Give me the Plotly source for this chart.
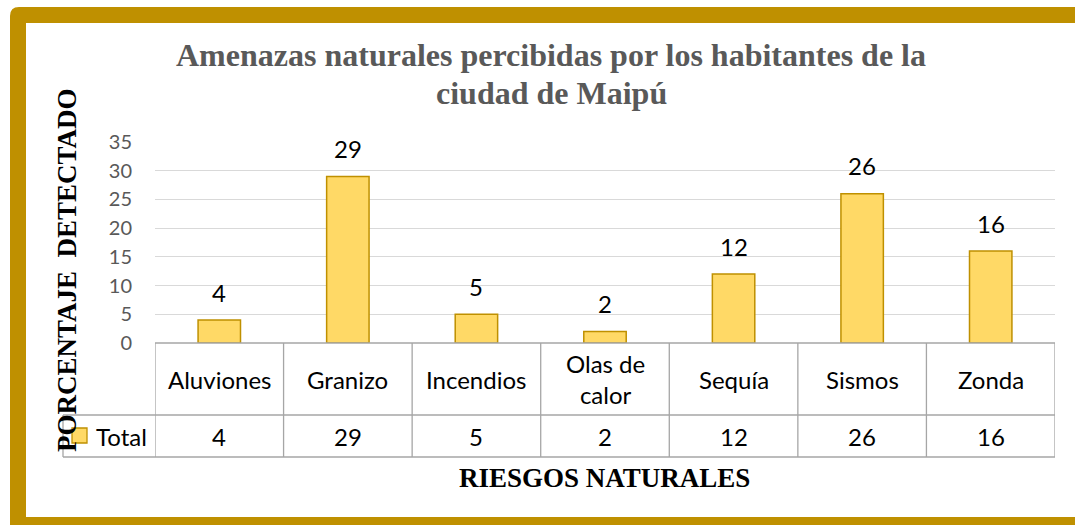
import plotly.graph_objects as go

# ---- data ----
categories = ["Aluviones", "Granizo", "Incendios", "Olas de calor", "Sequía", "Sismos", "Zonda"]
header_labels = ["Aluviones", "Granizo", "Incendios", "Olas de<br>calor", "Sequía", "Sismos", "Zonda"]
values = [4, 29, 5, 2, 12, 26, 16]
series_name = "Total"
y_ticks = [0, 5, 10, 15, 20, 25, 30, 35]
title_lines = ["Amenazas naturales percibidas por los habitantes de la", "ciudad de Maipú"]
y_title = "PORCENTAJE  DETECTADO"
x_title = "RIESGOS NATURALES"

# ---- layout geometry helpers (pixels -> paper) ----
W, H = 1075, 525
L, R, T, B = 155, 20, 142, 182
PW, PH = W - L - R, H - T - B


def xp(px):
    return (px - L) / PW


def yp(py):
    return (H - B - py) / PH


GOLD = "#BF9000"
BAR_FILL = "#FFD966"
GRID = "#D9D9D9"
TBL = "#A6A6A6"
SANS = "Lato"
SERIF = "Liberation Serif"
FS = 24

fig = go.Figure()
fig.add_trace(go.Bar(
    x=categories, y=values, name=series_name, width=0.33,
    marker=dict(color=BAR_FILL, line=dict(color=GOLD, width=1.5)),
    showlegend=False, hoverinfo="skip",
))

shapes = []
# frame
r = 9
ox0, oy0, ox1, oy1 = 10, 7, 1110, 545
path = (f"M {xp(ox0)},{yp(oy1)} L {xp(ox0)},{yp(oy0 + r)} "
        f"Q {xp(ox0)},{yp(oy0)} {xp(ox0 + r)},{yp(oy0)} "
        f"L {xp(ox1)},{yp(oy0)} L {xp(ox1)},{yp(oy1)} Z")
shapes.append(dict(type="path", path=path, xref="paper", yref="paper",
                   fillcolor=GOLD, line=dict(width=0), layer="below"))
shapes.append(dict(type="rect", xref="paper", yref="paper",
                   x0=xp(26), x1=xp(1100), y0=yp(517), y1=yp(23),
                   fillcolor="white", line=dict(width=0), layer="below"))

# data table lines
n = len(categories)
row1 = yp(415)
row2 = yp(457)
shapes.append(dict(type="line", xref="x", yref="paper", x0=-0.5, x1=n - 0.5, y0=0, y1=0,
                   line=dict(color=TBL, width=1.3)))
shapes.append(dict(type="line", xref="paper", yref="paper", x0=xp(63), x1=1, y0=row1, y1=row1,
                   line=dict(color=TBL, width=1.3)))
shapes.append(dict(type="line", xref="paper", yref="paper", x0=xp(63), x1=1, y0=row2, y1=row2,
                   line=dict(color=TBL, width=1.3)))
shapes.append(dict(type="line", xref="paper", yref="paper", x0=xp(63), x1=xp(63), y0=row1, y1=row2,
                   line=dict(color=TBL, width=1.3)))
for i in range(n + 1):
    shapes.append(dict(type="line", xref="x", yref="paper", x0=i - 0.5, x1=i - 0.5, y0=0, y1=row2,
                       line=dict(color=TBL, width=1.3)))
# legend key
shapes.append(dict(type="rect", xref="paper", yref="paper", x0=xp(72), x1=xp(87), y0=yp(443), y1=yp(428),
                   fillcolor=BAR_FILL, line=dict(color=GOLD, width=1.3)))

ann = []
# bar labels
for c, v in zip(categories, values):
    ann.append(dict(x=c, y=v, xref="x", yref="y", text=str(v), showarrow=False,
                    yanchor="middle", yshift=28, font=dict(family=SANS, size=FS, color="#000000")))
# table header & values
for c, h, v in zip(categories, header_labels, values):
    ann.append(dict(x=c, y=yp(379), xref="x", yref="paper", text=h, showarrow=False,
                    yanchor="middle", font=dict(family=SANS, size=FS, color="#000000")))
    ann.append(dict(x=c, y=yp(436), xref="x", yref="paper", text=str(v), showarrow=False,
                    yanchor="middle", font=dict(family=SANS, size=FS, color="#000000")))
ann.append(dict(x=xp(94), y=yp(436), xref="paper", yref="paper", text=series_name, showarrow=False,
                xanchor="left", yanchor="middle", font=dict(family=SANS, size=FS, color="#000000")))
# titles
for line, ypix in zip(title_lines, [55, 93]):
    ann.append(dict(x=xp(551), y=yp(ypix), xref="paper", yref="paper", text="<b>" + line + "</b>",
                    showarrow=False, xanchor="center", yanchor="middle",
                    font=dict(family=SERIF, size=32, color="#595959")))
ann.append(dict(x=xp(67), y=yp(270), xref="paper", yref="paper", text="<b>" + y_title + "</b>",
                showarrow=False, textangle=-90, xanchor="center", yanchor="middle",
                font=dict(family=SERIF, size=27, color="#000000")))
ann.append(dict(x=xp(604), y=yp(478), xref="paper", yref="paper", text="<b>" + x_title + "</b>",
                showarrow=False, xanchor="center", yanchor="middle",
                font=dict(family=SERIF, size=27, color="#000000")))

fig.update_layout(
    width=W, height=H,
    margin=dict(l=L, r=R, t=T, b=B),
    paper_bgcolor="white", plot_bgcolor="rgba(0,0,0,0)",
    shapes=shapes, annotations=ann,
)
fig.update_xaxes(showticklabels=False, showgrid=False, zeroline=False, showline=False,
                 range=[-0.5, n - 0.5])
fig.update_yaxes(range=[0, 35], tickvals=y_ticks, showgrid=True, gridcolor=GRID, gridwidth=1.3,
                 zeroline=False, showline=False, ticks="", ticklabelstandoff=22,
                 tickfont=dict(family=SANS, size=20, color="#595959"))

fig.write_html("out.html", config={"displayModeBar": False},
               post_script="document.body.style.margin='0';")
